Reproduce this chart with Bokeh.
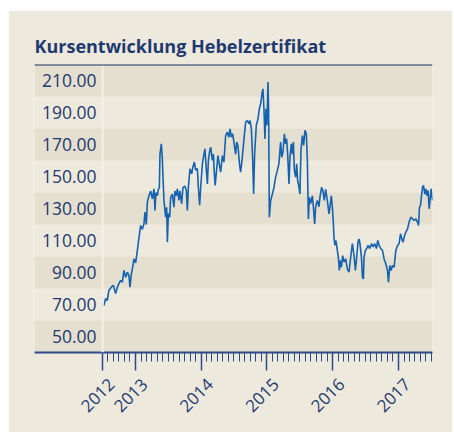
import math
from datetime import datetime
import pandas as pd
from bokeh.plotting import figure
from bokeh.models import (Range1d, FixedTicker, Span, CustomJSTickFormatter,
                          DatetimeAxis, DatetimeTickFormatter)
from bokeh.core.properties import value
from bokeh.embed import file_html
from bokeh.resources import INLINE

# ---- data ----
dates_fy = [
    2012.520, 2012.546, 2012.571, 2012.596, 2012.632, 2012.663, 2012.698, 2012.724, 2012.748, 2012.774,
    2012.800, 2012.824, 2012.850, 2012.876, 2012.900, 2012.916, 2012.937, 2012.961, 2012.976, 2013.002,
    2013.028, 2013.053, 2013.078, 2013.104, 2013.129, 2013.144, 2013.165, 2013.180, 2013.205, 2013.231,
    2013.256, 2013.281, 2013.296, 2013.311, 2013.333, 2013.348, 2013.363, 2013.372, 2013.393, 2013.409,
    2013.418, 2013.433, 2013.448, 2013.459, 2013.474, 2013.485, 2013.500, 2013.520, 2013.535, 2013.561,
    2013.585, 2013.600, 2013.622, 2013.637, 2013.661, 2013.677, 2013.702, 2013.722, 2013.753, 2013.774,
    2013.789, 2013.804, 2013.829, 2013.855, 2013.874, 2013.896, 2013.916, 2013.941, 2013.957, 2013.976,
    2013.992, 2014.018, 2014.042, 2014.057, 2014.078, 2014.094, 2014.109, 2014.129, 2014.144, 2014.170,
    2014.185, 2014.200, 2014.212, 2014.231, 2014.255, 2014.270, 2014.296, 2014.322, 2014.346, 2014.372,
    2014.398, 2014.422, 2014.438, 2014.459, 2014.479, 2014.498, 2014.524, 2014.540, 2014.559, 2014.585,
    2014.600, 2014.626, 2014.651, 2014.677, 2014.702, 2014.727, 2014.742, 2014.763, 2014.783, 2014.798,
    2014.814, 2014.839, 2014.864, 2014.885, 2014.905, 2014.925, 2014.940, 2014.955, 2014.970, 2014.986,
    2015.000, 2015.016, 2015.026, 2015.037, 2015.057, 2015.083, 2015.107, 2015.133, 2015.159, 2015.183,
    2015.194, 2015.209, 2015.225, 2015.244, 2015.266, 2015.285, 2015.300, 2015.316, 2015.336, 2015.351,
    2015.372, 2015.387, 2015.403, 2015.418, 2015.438, 2015.453, 2015.468, 2015.488, 2015.503, 2015.518,
    2015.540, 2015.559, 2015.579, 2015.600, 2015.616, 2015.631, 2015.646, 2015.666, 2015.692, 2015.707,
    2015.727, 2015.742, 2015.768, 2015.792, 2015.807, 2015.833, 2015.853, 2015.874, 2015.894, 2015.920,
    2015.945, 2015.960, 2015.981, 2015.996, 2016.011, 2016.021, 2016.036, 2016.051, 2016.072, 2016.087,
    2016.103, 2016.112, 2016.133, 2016.153, 2016.173, 2016.199, 2016.224, 2016.249, 2016.275, 2016.300,
    2016.325, 2016.346, 2016.366, 2016.386, 2016.401, 2016.416, 2016.438, 2016.453, 2016.468, 2016.477,
    2016.498, 2016.518, 2016.538, 2016.564, 2016.590, 2016.614, 2016.640, 2016.666, 2016.686, 2016.706,
    2016.731, 2016.757, 2016.782, 2016.808, 2016.833, 2016.848, 2016.868, 2016.888, 2016.909, 2016.934,
    2016.960, 2016.986, 2017.010, 2017.031, 2017.051, 2017.071, 2017.092, 2017.112, 2017.138, 2017.162,
    2017.188, 2017.214, 2017.238, 2017.264, 2017.290, 2017.305, 2017.320, 2017.336, 2017.351, 2017.366,
    2017.381, 2017.401, 2017.416, 2017.432, 2017.451, 2017.467, 2017.480, 2017.497, 2017.518,
]
prices = [
    69.4, 73.7, 72.5, 78.8, 80.8, 81.9, 76.9, 80.8, 83.0, 85.0,
    84.0, 91.3, 87.0, 90.2, 88.0, 80.8, 89.0, 94.4, 98.5, 96.0,
    103.8, 112.0, 119.4, 117.0, 120.4, 127.7, 120.0, 134.0, 138.0, 141.0,
    136.0, 142.3, 128.8, 140.0, 138.0, 142.0, 143.0, 164.0, 170.4, 160.0,
    149.6, 135.0, 128.8, 124.6, 130.8, 109.0, 126.9, 124.6, 137.0, 139.0,
    130.8, 141.0, 138.0, 142.3, 135.0, 141.0, 133.0, 143.0, 144.0, 141.0,
    128.8, 143.0, 154.8, 151.7, 156.0, 159.0, 154.0, 155.0, 143.0, 132.0,
    143.0, 158.0, 164.0, 167.3, 154.0, 145.4, 160.0, 166.0, 168.3, 160.0,
    164.0, 151.7, 144.4, 152.7, 163.0, 159.0, 152.7, 163.0, 159.0, 175.6,
    177.7, 174.6, 179.8, 174.6, 176.7, 171.5, 164.0, 171.5, 169.4, 156.9,
    152.7, 162.0, 173.5, 184.0, 185.0, 183.0, 185.0, 180.0, 161.0, 139.0,
    165.0, 182.0, 186.0, 192.3, 195.4, 201.7, 204.8, 192.3, 173.5, 192.3,
    182.0, 209.0, 192.0, 124.6, 135.0, 139.0, 143.0, 149.6, 153.8, 158.0,
    164.0, 171.5, 162.0, 165.0, 176.7, 170.4, 173.5, 164.0, 145.4, 162.0,
    170.4, 164.0, 171.5, 153.8, 149.6, 158.0, 147.5, 143.3, 139.0, 166.0,
    175.6, 169.4, 178.8, 176.7, 160.0, 123.5, 137.0, 133.0, 138.0, 131.0,
    120.4, 131.0, 135.0, 131.0, 137.0, 143.3, 141.0, 135.0, 142.0, 135.0,
    126.7, 130.8, 138.0, 130.8, 121.5, 112.0, 106.9, 110.0, 103.8, 99.6,
    91.3, 97.5, 93.3, 100.6, 96.5, 98.5, 92.3, 90.2, 99.6, 108.0,
    100.6, 91.3, 99.6, 109.0, 111.0, 108.0, 99.6, 87.0, 86.0, 99.6,
    103.8, 105.0, 107.0, 105.0, 108.0, 106.0, 108.0, 105.0, 110.0, 107.0,
    105.0, 103.8, 98.5, 95.4, 91.3, 84.0, 94.4, 91.3, 94.4, 93.3,
    103.8, 106.9, 108.0, 114.2, 111.0, 109.0, 113.0, 115.2, 117.3, 121.5,
    124.6, 123.5, 122.5, 123.5, 121.5, 119.4, 130.8, 132.0, 138.0, 143.3,
    144.4, 139.0, 142.3, 138.0, 141.3, 129.8, 135.0, 142.3, 135.0,
]
y_tick_values = [210, 190, 170, 150, 130, 110, 90, 70, 50]
y_tick_labels = ["210.00", "190.00", "170.00", "150.00", "130.00", "110.00", "90.00", "70.00", "50.00"]
shaded_rows = [210, 170, 130, 90, 50]
x_tick_years = [2012.5, 2013.0, 2014.0, 2015.0, 2016.0, 2017.0]
title_text = "Kursentwicklung Hebelzertifikat"

# ---- helpers ----
def fy_to_ms(fy):
    y = int(math.floor(fy))
    a = datetime(y, 1, 1)
    b = datetime(y + 1, 1, 1)
    d = a + (b - a) * (fy - y)
    return pd.Timestamp(d).value / 1e6

x_ms = [fy_to_ms(d) for d in dates_fy]
x_start = fy_to_ms(2011.465)
x_end = fy_to_ms(2017.518)
first_tick = fy_to_ms(x_tick_years[0])
major = [fy_to_ms(t) for t in x_tick_years]
minor = [pd.Timestamp(d).value / 1e6 for d in pd.date_range("2012-07-01", "2017-07-01", freq="MS")]
LABEL_SHIFT = 0.137  # years: year labels sit a little right of their tick
label_ticks = [fy_to_ms(t + LABEL_SHIFT) for t in x_tick_years]

LIGHT = "#EEE9DD"
DARK = "#E5DFCF"
NAVY = "#1E3A70"
LINE = "#1462B0"
AXIS = "#2C4A8A"
FONT = "Open Sans"

p = figure(width=444, height=422, output_backend="svg", toolbar_location=None,
           x_axis_type="datetime", y_axis_location=None,
           x_range=Range1d(x_start, x_end), y_range=Range1d(40, 220),
           min_border_left=26, min_border_right=20, min_border_top=54, min_border_bottom=80)
p.margin = (10, 0, 0, 8)
p.background_fill_color = LIGHT
p.border_fill_color = LIGHT
p.outline_line_color = None
p.xgrid.visible = False
p.ygrid.visible = False

p.title.text = title_text
p.title.text_font = FONT
p.title.text_font_size = "18px"
p.title.text_font_style = "bold"
p.title.text_color = NAVY
p.title.align = "left"
p.title.standoff = 14

# shaded rows
p.hbar(y=shaded_rows, height=20, left=x_start, right=x_end, color=DARK, line_color=None)

# separator between label column and plot
p.add_layout(Span(location=first_tick, dimension="height", line_color="#F3EFE7", line_width=2))
# top rule
p.add_layout(Span(location=220, dimension="width", line_color="#1A2E5E", line_width=2))

# y labels
p.text(x=[first_tick] * len(y_tick_values), y=y_tick_values, text=y_tick_labels,
       x_offset=-6, text_align="right", text_baseline="middle",
       text_font=value(FONT), text_font_size="17.5px", text_color=NAVY)

# price line
p.line(x_ms, prices, line_color=LINE, line_width=1.6)

# tick axis (marks only)
ax = p.xaxis[0]
ax.ticker = FixedTicker(ticks=major, minor_ticks=minor)
ax.formatter = CustomJSTickFormatter(code="return '';")
ax.major_label_text_font_size = "0px"
ax.major_label_standoff = 0
ax.axis_line_color = AXIS
ax.axis_line_width = 2
ax.major_tick_line_color = AXIS
ax.major_tick_line_width = 1.5
ax.major_tick_out = 18
ax.major_tick_in = 0
ax.minor_tick_line_color = AXIS
ax.minor_tick_line_width = 1
ax.minor_tick_out = 9
ax.minor_tick_in = 0

# label axis (rotated year labels only)
fmt = "%Y"
label_axis = DatetimeAxis(
    ticker=FixedTicker(ticks=label_ticks, minor_ticks=[]),
    formatter=DatetimeTickFormatter(milliseconds=fmt, seconds=fmt, minsec=fmt, minutes=fmt,
                                    hourmin=fmt, hours=fmt, days=fmt, months=fmt, years=fmt),
    axis_line_color=None, major_tick_line_color=None, minor_tick_line_color=None,
    major_tick_out=0, major_tick_in=0, minor_tick_out=0, minor_tick_in=0,
    major_label_orientation=math.pi / 4, major_label_standoff=11,
    major_label_text_font=FONT, major_label_text_font_size="17px",
    major_label_text_color=NAVY)
p.add_layout(label_axis, "below")

open("out.html", "w").write(file_html(p, INLINE))
